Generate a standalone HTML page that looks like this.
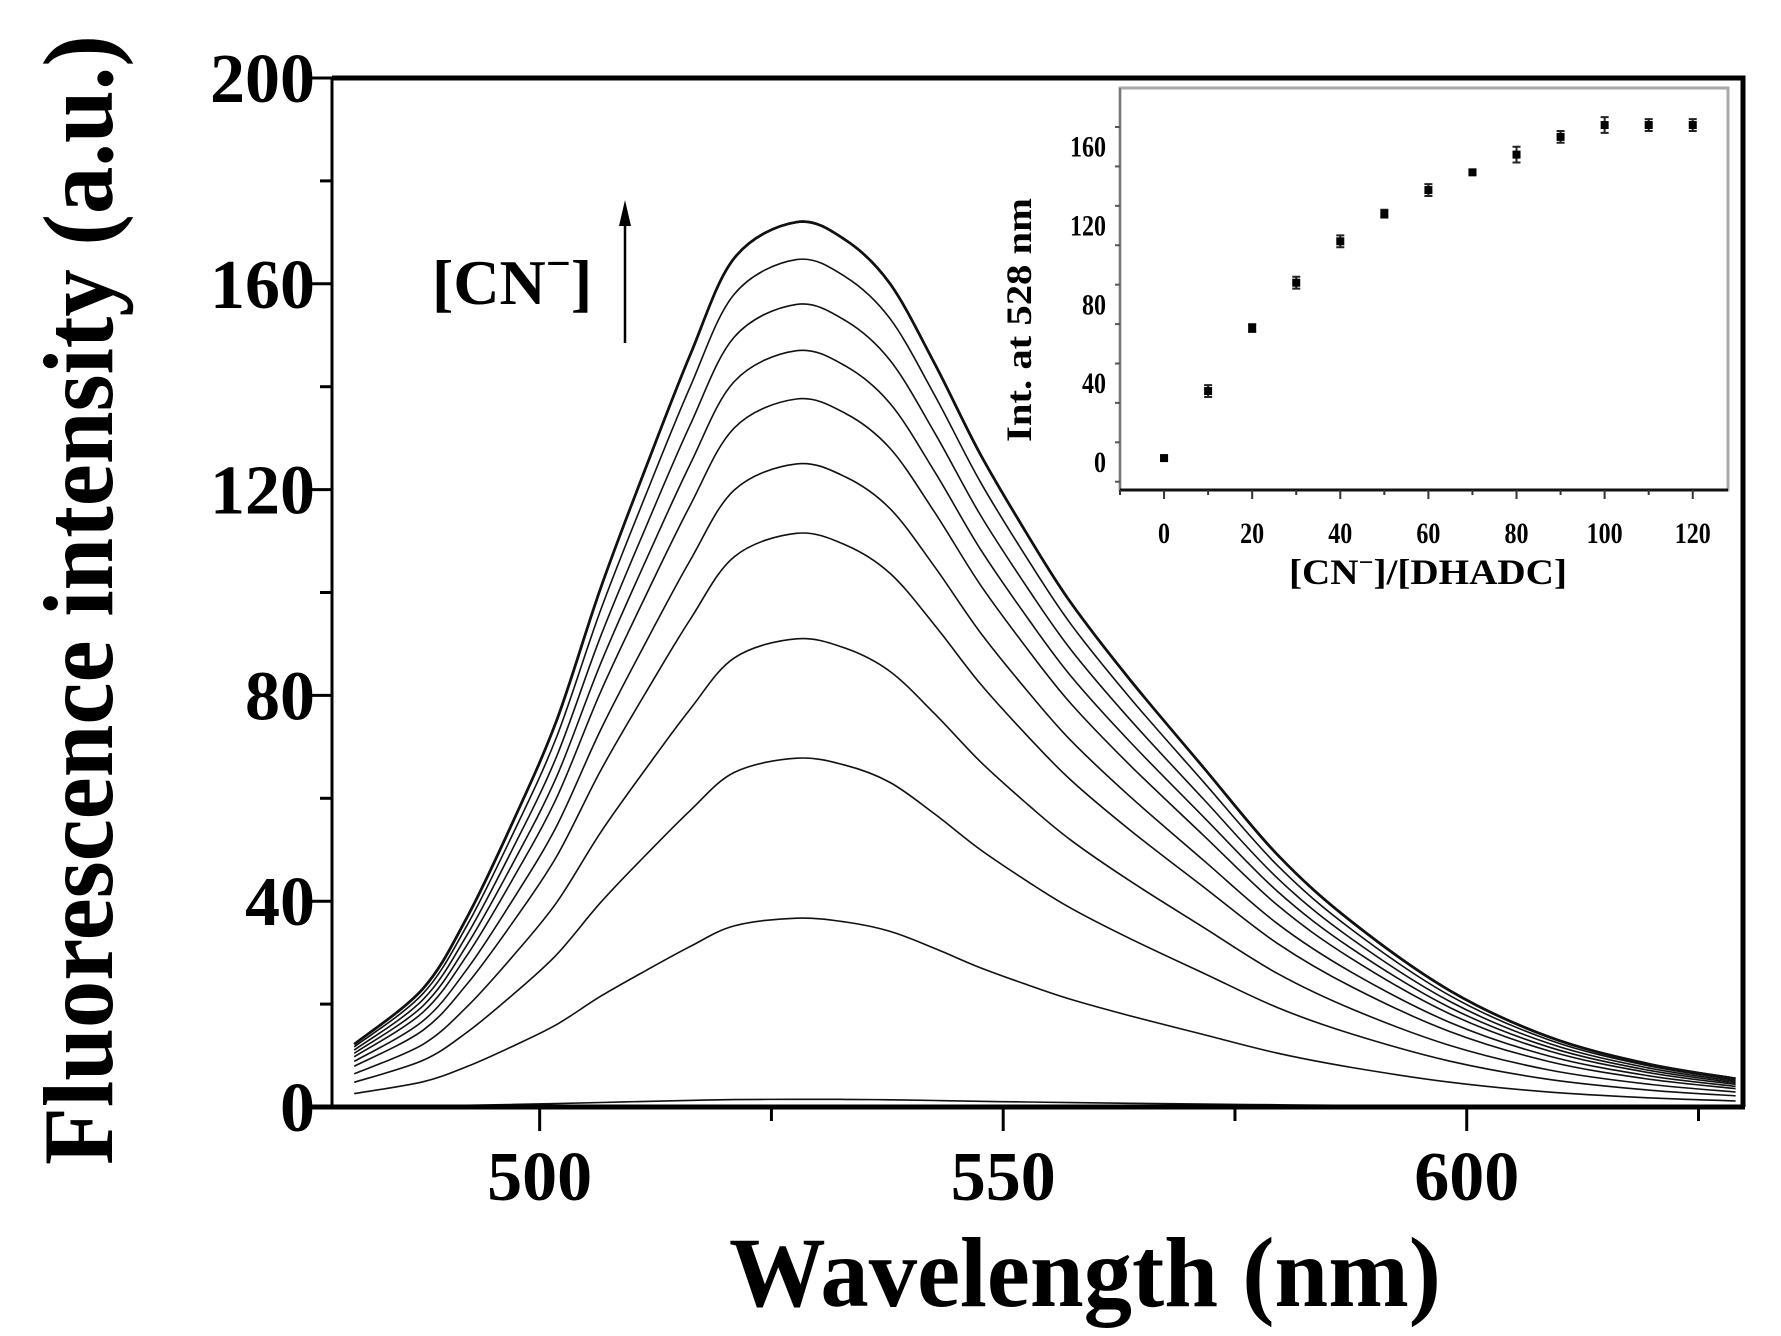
<!DOCTYPE html>
<html><head><meta charset="utf-8"><style>
html,body{margin:0;padding:0;background:#fff;}
svg{display:block;}
text{font-family:"Liberation Serif",serif;font-weight:bold;fill:#000;}
</style></head><body>
<svg id="chart" width="1781" height="1336" viewBox="0 0 1781 1336" xmlns="http://www.w3.org/2000/svg">
<rect x="0" y="0" width="1781" height="1336" fill="#fff"/>
<g id="main"></g>
<g id="inset"></g>
</svg>
<script>
// ---- main chart data ----
const waveNm = [480,487.4,492.2,497,501.8,506.6,511.4,516.2,521,527.7,533,537.8,542.6,547.5,552.7,557.3,563.7,571.6,579.6,587.6,598.2,608.9,619.5,629];
const topSpectrum = [12.2,23,37,55,75,101,124,146,165,172,168.5,160,144.5,127,111,98,83,66,49,36,22.6,13.6,8.4,5.5];
const peakValues = [1.5,36.7,67.8,91,111.5,125,137.6,147,156,164.7,172,172];
const xTicks = [500,550,600];
const yTicks = [0,40,80,120,160,200];
// ---- inset data ----
const ratioValues = [0,10,20,30,40,50,60,70,80,90,100,110,120];
const intensityValues = [2,36,68,91,112,126,138,147,156,165,171,171,171];
const errorValues = [1,3,2,3,3,2,3,1,4,3,4,3,3];
const insetXTicks = [0,20,40,60,80,100,120];
const insetYTicks = [0,40,80,120,160];

const NS="http://www.w3.org/2000/svg";
function mk(tag,attrs,parent,txt){const e=document.createElementNS(NS,tag);for(const k in attrs)e.setAttribute(k,attrs[k]);if(txt!==undefined)e.textContent=txt;parent.appendChild(e);return e;}
function smoothPath(pts){
  let d='M'+pts[0][0].toFixed(1)+','+pts[0][1].toFixed(1);
  for(let i=0;i<pts.length-1;i++){
    const p0=pts[Math.max(0,i-1)],p1=pts[i],p2=pts[i+1],p3=pts[Math.min(pts.length-1,i+2)];
    const c1x=p1[0]+(p2[0]-p0[0])/6,c1y=p1[1]+(p2[1]-p0[1])/6;
    const c2x=p2[0]-(p3[0]-p1[0])/6,c2y=p2[1]-(p3[1]-p1[1])/6;
    d+='C'+c1x.toFixed(1)+','+c1y.toFixed(1)+' '+c2x.toFixed(1)+','+c2y.toFixed(1)+' '+p2[0].toFixed(1)+','+p2[1].toFixed(1);
  }
  return d;
}

const L=332,R=1743,T=78,B=1107;
const xmin=477.6,xmax=629.8,ymin=0,ymax=200;
const X=v=>L+(v-xmin)/(xmax-xmin)*(R-L);
const Y=v=>B-(v-ymin)/(ymax-ymin)*(B-T);
const g=document.getElementById('main');

const topPeak=172;
peakValues.forEach((p,i)=>{
  const pts=waveNm.map((w,j)=>[X(w),Y(topSpectrum[j]*p/topPeak)]);
  const path=mk('path',{d:smoothPath(pts),fill:'none',stroke:'#111','stroke-width':i>=10?2.6:1.6,'stroke-linejoin':'round'},g);
  
  
});

const fr=mk('path',{d:`M${L},${T}H${R}V${B}`,fill:'none',stroke:'#000','stroke-width':5},g);


const ya=mk('line',{x1:L,y1:T,x2:L,y2:B,stroke:'#000','stroke-width':3},g);


const xa=mk('line',{x1:L-22,y1:B,x2:R+2,y2:B,stroke:'#000','stroke-width':5},g);



for(let v=0;v<=200;v+=20){
  const major=yTicks.includes(v);
  const t=mk('line',{x1:L-(major?22:12),y1:Y(v),x2:L,y2:Y(v),stroke:'#000','stroke-width':3},g);
  
  
}
yTicks.forEach(v=>{
  const t=mk('text',{x:315,y:Y(v)+24,'text-anchor':'end','font-size':70},g,String(v));
  
  
});
for(let v=500;v<=625;v+=25){
  const major=xTicks.includes(v);
  const t=mk('line',{x1:X(v),y1:B,x2:X(v),y2:B+(major?24:14),stroke:'#000','stroke-width':3},g);
  
  
}
xTicks.forEach(v=>{
  const t=mk('text',{x:X(v),y:1200,'text-anchor':'middle','font-size':70},g,String(v));
  
  
});
const xt=mk('text',{x:1085,y:1306,'text-anchor':'middle','font-size':100,textLength:712,lengthAdjust:'spacingAndGlyphs'},g,'Wavelength (nm)');


const yt=mk('text',{x:0,y:0,'text-anchor':'middle','font-size':100,textLength:1130,lengthAdjust:'spacingAndGlyphs',transform:'translate(112,600) rotate(-90)'},g,'Fluorescence intensity (a.u.)');


const an=mk('text',{x:432,y:304,'font-size':64,'font-weight':'bold'},g);


an.innerHTML='[CN<tspan font-size="44" dy="-26">−</tspan><tspan dy="26">]</tspan>';
const ar=mk('line',{x1:625,y1:343,x2:625,y2:222,stroke:'#000','stroke-width':2.5},g);


const ah=mk('path',{d:'M619,226 L625,200 L631,226 Z',fill:'#000'},g);



// ---- inset ----
const gi=document.getElementById('inset');
const iL=1120,iR=1728,iT=88,iB=490;
const ixmin=-10,ixmax=128,iymin=-14.2,iymax=189.8;
const IX=v=>iL+(v-ixmin)/(ixmax-ixmin)*(iR-iL);
const IY=v=>iB-(v-iymin)/(iymax-iymin)*(iB-iT);
const ib=mk('rect',{x:iL,y:iT,width:iR-iL,height:iB-iT,fill:'#fff',stroke:'#aaa','stroke-width':3},gi);


const iya=mk('line',{x1:iL,y1:iT,x2:iL,y2:iB,stroke:'#777','stroke-width':2},gi);


const ixa=mk('line',{x1:iL,y1:iB,x2:iR,y2:iB,stroke:'#111','stroke-width':3},gi);


for(let v=-10;v<=180;v+=20){
  const t=mk('line',{x1:iL-(v%40===0?10:5),y1:IY(v),x2:iL,y2:IY(v),stroke:'#555','stroke-width':2},gi);
  
  
}
insetYTicks.forEach(v=>{
  const t=mk('text',{x:iL-14,y:IY(v)+10,'text-anchor':'end','font-size':30,textLength:v>=100?36:(v?24:12),lengthAdjust:'spacingAndGlyphs'},gi,String(v));
  
  
});
for(let v=-10;v<=120;v+=10){
  const t=mk('line',{x1:IX(v),y1:iB,x2:IX(v),y2:iB+(v%20===0?9:5),stroke:'#333','stroke-width':2},gi);
  
  
}
insetXTicks.forEach(v=>{
  const t=mk('text',{x:IX(v),y:543,'text-anchor':'middle','font-size':30,textLength:v>=100?36:(v?24:12),lengthAdjust:'spacingAndGlyphs'},gi,String(v));
  
  
});
ratioValues.forEach((r,i)=>{
  const cx=IX(r),cy=IY(intensityValues[i]),e=errorValues[i];
  const eb=mk('path',{d:`M${cx},${IY(intensityValues[i]+e)}V${IY(intensityValues[i]-e)}M${cx-4},${IY(intensityValues[i]+e)}H${cx+4}M${cx-4},${IY(intensityValues[i]-e)}H${cx+4}`,stroke:'#222','stroke-width':2,fill:'none'},gi);
  
  
  const m=mk('rect',{x:cx-4,y:cy-4,width:8,height:8,fill:'#000'},gi);
  
  
});
const ixt=mk('text',{x:1428,y:584,'text-anchor':'middle','font-size':36,textLength:278,lengthAdjust:'spacingAndGlyphs'},gi);


ixt.innerHTML='[CN<tspan font-size="24" dy="-14">−</tspan><tspan dy="14">]/[DHADC]</tspan>';
const iyt=mk('text',{x:0,y:0,'text-anchor':'middle','font-size':36,textLength:244,lengthAdjust:'spacingAndGlyphs',transform:'translate(1031,320) rotate(-90)'},gi,'Int. at 528 nm');


</script>
</body></html>
